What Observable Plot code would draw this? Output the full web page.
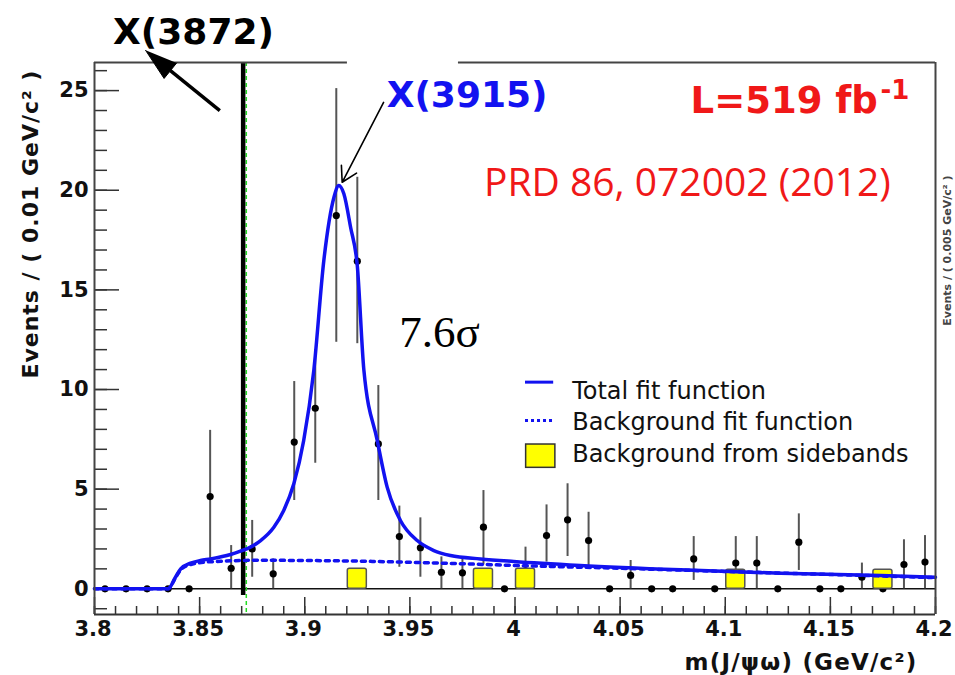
<!DOCTYPE html>
<html><head><meta charset="utf-8">
<script src="https://cdn.jsdelivr.net/npm/d3@7"></script>
<script src="https://cdn.jsdelivr.net/npm/@observablehq/plot@0.6"></script>
<style>body{margin:0;background:#fff}</style>
</head><body><div id="chart"></div>
<script>
// ---- data ----
const binMass = [3.805,3.815,3.825,3.835,3.845,3.855,3.865,3.875,3.885,3.895,3.905,3.915,3.925,3.935,3.945,3.955,3.965,3.975,3.985,3.995,
                 4.005,4.015,4.025,4.035,4.045,4.055,4.065,4.075,4.085,4.095,4.105,4.115,4.125,4.135,4.145,4.155,4.165,4.175,4.185,4.195];
const events  = [0,0,0,0,0,4.63,1.03,2.0,0.75,7.36,9.06,18.73,16.44,7.27,2.62,2.06,0.83,0.8,3.09,0,
                 0.9,2.67,3.46,2.42,0,0.67,0,0,1.5,0,1.29,1.29,0,2.34,0,0,0.58,0,1.22,1.34];
const errLow  = [0,0,0,0,0,1.5,0,0.58,0,4.43,6.3,12.37,12.3,4.43,1.08,0.58,0,0,1.2,0,
                 0.2,1.34,1.62,1.08,0,0,0,0,0.42,0,0.4,0,0,0.92,0,0,0,0,0,0];
const errHigh = [0,0,0,0,0,7.95,2.17,3.43,1.5,10.4,12.0,25.1,20.65,10.2,4.15,3.56,1.6,1.6,4.93,0,
                 2.09,4.21,5.27,3.84,0,1.42,0,0,2.62,0,2.62,2.62,0,3.76,0,0,1.29,0,2.46,2.67];

const sidebandMass   = [3.925,3.985,4.005,4.105,4.175];
const sidebandEvents = [1.0,1.0,1.0,0.95,0.95];

const totalFitMass  = [3.800,3.835,3.8385,3.841,3.8457,3.8504,3.8552,3.8647,3.8694,3.8742,3.879,3.8853,3.890,3.8948,3.8995,3.9043,3.9091,3.9139,3.9162,3.9186,
                       3.9218,3.9250,3.9281,3.9345,3.9392,3.9455,3.9535,3.9614,3.9693,3.9836,3.9994,4.031,4.0787,4.1263,4.174,4.2];
const totalFitValue = [0,0,0.58,1.0,1.29,1.42,1.5,1.72,1.89,2.09,2.42,3.09,3.93,5.27,7.44,10.95,16.5,19.65,20.24,19.82,
                       18.14,16.2,11.0,7.44,5.1,3.43,2.42,1.92,1.67,1.5,1.37,1.17,0.95,0.78,0.67,0.58];
const bgFitMass  = [3.800,3.835,3.8385,3.841,3.8457,3.852,3.86,3.875,3.9,3.93,3.95,3.98,4.0,4.05,4.1,4.15,4.2];
const bgFitValue = [0,0,0.55,0.95,1.22,1.33,1.38,1.43,1.42,1.38,1.33,1.24,1.17,1.03,0.87,0.72,0.56];

const xMajorTicks = [3.8,3.85,3.9,3.95,4.0,4.05,4.1,4.15,4.2];
const xTickLabels = ["3.8","3.85","3.9","3.95","4","4.05","4.1","4.15","4.2"];
const yMajorTicks = [0,5,10,15,20,25];
const yTickLabels = ["0","5","10","15","20","25"];
const xMinorTicks = d3.range(0,41).map(i => +(3.8 + i*0.01).toFixed(3));
const yMinorTicks = d3.range(-1,27);

const x3872Line = 3.8707, x3872Green = 3.8722;

// ---- layout ----
const W = 955, H = 675, mL = 94, mR = 20, mT = 62, mB = 61;
const innerW = W - mL - mR, innerH = H - mT - mB;
const yMin = -1.29, yMax = 26.41;
const blue = "#1212f0", red = "#f01818";

const pts = binMass.map((m, i) => ({m, v: events[i], lo: errLow[i], hi: errHigh[i]}));
const bars = pts.filter(d => d.hi > d.v);
const side = sidebandMass.map((m, i) => ({m, v: sidebandEvents[i]}));
const total = totalFitMass.map((m, i) => ({m, v: totalFitValue[i]}));
const bg = bgFitMass.map((m, i) => ({m, v: bgFitValue[i]}));
const arrowHead3872 = [[3.8243,27.02],[3.8331,25.61],[3.8391,26.39]];

const chart = Plot.plot({
  width: W, height: H,
  marginLeft: mL, marginRight: mR, marginTop: mT, marginBottom: mB,
  x: {domain: [3.8, 4.2], axis: null},
  y: {domain: [yMin, yMax], axis: null},
  style: {fontFamily: "DejaVu Sans", background: "white", overflow: "visible"},
  marks: [
    // inward ticks
    Plot.tickX(xMinorTicks, {x: d => d, stroke: "#333", strokeWidth: 1.5, insetTop: innerH - 8}),
    Plot.tickX(xMajorTicks, {x: d => d, stroke: "#333", strokeWidth: 1.5, insetTop: innerH - 17}),
    Plot.tickY(yMinorTicks, {y: d => d, stroke: "#333", strokeWidth: 1.5, insetRight: innerW - 13}),
    Plot.tickY(yMajorTicks, {y: d => d, stroke: "#333", strokeWidth: 1.5, insetRight: innerW - 25}),
    // zero line
    Plot.ruleY([0], {stroke: "#111", strokeWidth: 1.5}),
    // X(3872) lines
    Plot.ruleX([x3872Green], {stroke: "#22dd22", strokeWidth: 1.5, strokeDasharray: "4,3"}),
    Plot.ruleX([x3872Line], {y1: -0.34, y2: yMax, stroke: "#000", strokeWidth: 4.5}),
    // error bars and points
    Plot.ruleX(bars, {x: "m", y1: "lo", y2: "hi", stroke: "#555", strokeWidth: 2}),
    Plot.dot(pts, {x: "m", y: "v", r: 3.6, fill: "#000", stroke: "none"}),
    // sideband boxes
    Plot.rect(side, {x1: d => d.m - 0.005, x2: d => d.m + 0.005, y1: 0, y2: "v", insetLeft: 1, insetRight: 1,
      fill: "#ffff00", stroke: "#555", strokeWidth: 1.5, rx: 2}),
    // fit curves
    Plot.line(bg, {x: "m", y: "v", stroke: blue, strokeWidth: 3.5, strokeDasharray: "4,5", curve: "monotone-x"}),
    Plot.line(total, {x: "m", y: "v", stroke: blue, strokeWidth: 3.5, curve: "monotone-x"}),
    // frame
    Plot.ruleX([3.8, 4.2], {stroke: "#444", strokeWidth: 2}),
    Plot.ruleY([yMin], {stroke: "#333", strokeWidth: 2}),
    Plot.ruleY([yMax], {x1: 3.8, x2: 3.9203, stroke: "#444", strokeWidth: 2}),
    Plot.ruleY([yMax], {x1: 3.9731, x2: 4.2, stroke: "#444", strokeWidth: 2}),
    // tick labels
    Plot.text(xMajorTicks, {x: d => d, y: yMin, dy: 15, dx: -1.5, text: (d, i) => xTickLabels[i],
      fontSize: 21, fontWeight: "bold", fill: "#111", lineAnchor: "middle"}),
    Plot.text(yMajorTicks, {x: 3.8, y: d => d, dx: -6, text: (d, i) => yTickLabels[i],
      fontSize: 21, fontWeight: "bold", fill: "#111", textAnchor: "end", lineAnchor: "middle"}),
    // axis titles
    Plot.text(["Events / ( 0.01 GeV/c² )"], {x: 3.7696, y: 18.30, text: d => d, rotate: -90,
      fontSize: 22, fontWeight: "bold", fill: "#111", lineAnchor: "middle"}),
    Plot.text(["m(J/ψω) (GeV/c²)"], {x: 4.1914, y: -3.73, text: d => d, textAnchor: "end",
      fontSize: 23, fontWeight: "bold", fill: "#111", lineAnchor: "middle"}),
    // annotations
    Plot.text(["X(3872)"], {x: 3.8471, y: 27.94, text: d => d, fontSize: 36, fontWeight: "bold", fill: "#000", lineAnchor: "middle"}),
    Plot.link([0], {x1: 3.8596, y1: 24.0, x2: 3.8361, y2: 26.0, stroke: "#000", strokeWidth: 3.5}),
    Plot.line(arrowHead3872, {x: d => d[0], y: d => d[1], fill: "#000", stroke: "#000", strokeWidth: 1}),
    Plot.text(["X(3915)"], {x: 3.9772, y: 24.74, text: d => d, fontSize: 36, fontWeight: "bold", fill: blue, lineAnchor: "middle"}),
    Plot.arrow([0], {x1: 3.9375, y1: 24.41, x2: 3.9178, y2: 20.40, stroke: "#000", strokeWidth: 1.6, headLength: 16, headAngle: 60}),
    Plot.text(["L=519 fb"], {x: 4.0835, y: 24.49, text: d => d, textAnchor: "start", fontSize: 37, fontWeight: "bold", fill: red, lineAnchor: "middle"}),
    Plot.text(["-1"], {x: 4.1738, y: 25.0, text: d => d, textAnchor: "start", fontSize: 26, fontWeight: "bold", fill: red, lineAnchor: "middle"}),
    Plot.text(["PRD 86, 072002 (2012)"], {x: 4.0820, y: 20.36, text: d => d, fontSize: 39, fontFamily: "Open Sans", fill: red, lineAnchor: "middle"}),
    Plot.text(["7.6σ"], {x: 3.9641, y: 12.88, text: d => d, fontSize: 45, fontFamily: "Liberation Serif", fill: "#000", lineAnchor: "middle"}),
    // legend
    Plot.ruleY([10.37], {x1: 4.005, x2: 4.0184, stroke: blue, strokeWidth: 3}),
    Plot.ruleY([8.44], {x1: 4.005, x2: 4.0184, stroke: blue, strokeWidth: 3, strokeDasharray: "3,3"}),
    Plot.rect([0], {x1: 4.0053, x2: 4.0192, y1: 6.07, y2: 7.24, fill: "#ffff00", stroke: "#333", strokeWidth: 1.5}),
    Plot.text(["Total fit function", "Background fit function", "Background from sidebands"],
      {x: 4.0272, y: (d, i) => [9.93, 8.33, 6.74][i], text: d => d, textAnchor: "start", fontSize: 24, fill: "#111", lineAnchor: "middle"}),
    // side text from neighbouring figure (kept fully visible)
    Plot.text(["Events / ( 0.005 GeV/c² )"], {x: 4.2055, y: 16.97, text: d => d, rotate: -90, fontSize: 11, fontWeight: "bold", fill: "#444", lineAnchor: "middle"})
  ]
});
document.getElementById("chart").appendChild(chart);
d3.select(chart).selectAll("text").filter(function () { return this.textContent.startsWith("Events / ( 0.01"); }).attr("letter-spacing", 1);
d3.select(chart).selectAll("text").filter(function () { return this.textContent.startsWith("m(J/"); }).attr("letter-spacing", 1.2);
</script>
</body></html>
